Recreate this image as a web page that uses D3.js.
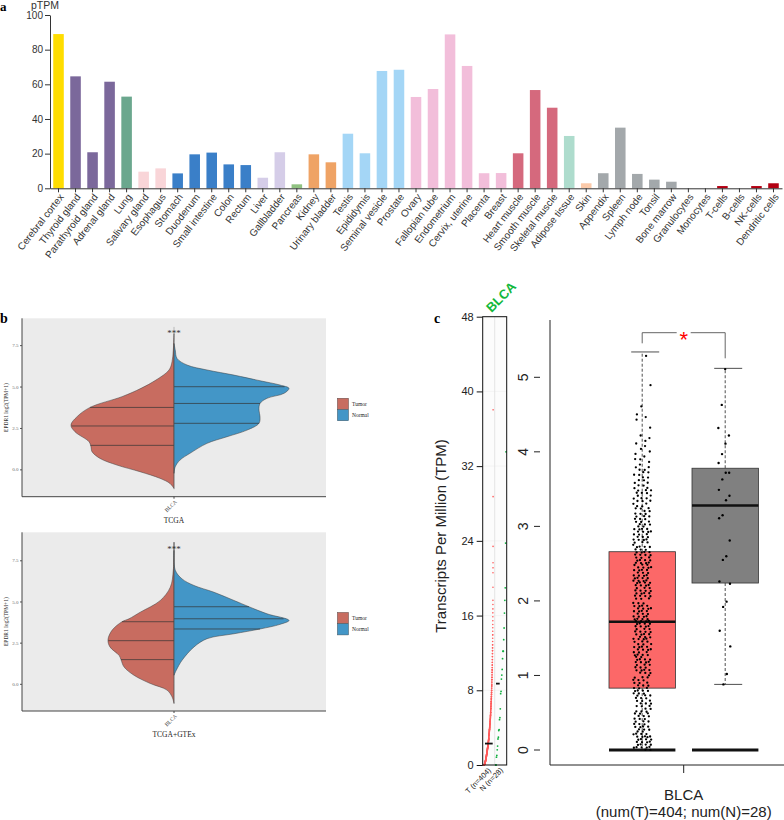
<!DOCTYPE html>
<html><head><meta charset="utf-8">
<script src="https://cdn.jsdelivr.net/npm/d3@7/dist/d3.min.js"></script>
<style>body{margin:0;background:#fff}svg{display:block}</style>
</head><body>
<svg id="chart" width="784" height="820"></svg>
<script>
// ================= DATA =================
// ---- Panel a: HPA tissue RNA expression (pTPM) ----
const tissues = ["Cerebral cortex","Thyroid gland","Parathyroid gland","Adrenal gland","Lung","Salivary gland","Esophagus","Stomach","Duodenum","Small intestine","Colon","Rectum","Liver","Gallbladder","Pancreas","Kidney","Urinary bladder","Testis","Epididymis","Seminal vesicle","Prostate","Ovary","Fallopian tube","Endometrium","Cervix, uterine","Placenta","Breast","Heart muscle","Smooth muscle","Skeletal muscle","Adipose tissue","Skin","Appendix","Spleen","Lymph node","Tonsil","Bone marrow","Granulocytes","Monocytes","T-cells","B-cells","NK-cells","Dendritic cells"];
const pTPM = [89,64.6,20.8,61.5,52.9,9.6,11.5,8.6,19.6,20.6,13.8,13.4,6.1,20.8,2.3,19.6,15,31.5,20.2,67.7,68.4,52.7,57.3,88.8,70.6,8.7,8.8,20.2,56.7,46.5,30.2,2.9,8.7,35,8.3,5,3.8,0,0,1.3,0,1.3,2.9];
const tissueGroup = ["brain","endocrine","endocrine","endocrine","lung","proximal digestive","proximal digestive","gastrointestinal","gastrointestinal","gastrointestinal","gastrointestinal","gastrointestinal","liver & gallbladder","liver & gallbladder","pancreas","kidney & bladder","kidney & bladder","male","male","male","male","female","female","female","female","female","female","muscle","muscle","muscle","adipose","skin","lymphoid","lymphoid","lymphoid","lymphoid","lymphoid","blood","blood","blood","blood","blood","blood"];
const groupNames = ["brain","endocrine","lung","proximal digestive","gastrointestinal","liver & gallbladder","pancreas","kidney & bladder","male","female","muscle","adipose","skin","lymphoid","blood"];
const yTicksA = [0,20,40,60,80,100];

// ---- Panel b: split violins [log2(TPM+1), relative density] ----
const violinTicks = [0,2.5,5,7.5];
const tcgaTumorProfile = [[8.2,0],[7.2,.006],[6.5,.017],[6.0,.043],[5.39,.157],[4.89,.287],[4.39,.452],[3.74,.730],[3.18,.843],[2.68,.896],[2.27,.861],[1.67,.739],[1.37,.722],[1.07,.713],[0.66,.643],[0.26,.496],[-0.14,.296],[-0.54,.122],[-0.85,.035],[-1.15,0]];
const tcgaNormalProfile = [[7.6,0],[7.2,.011],[6.7,.026],[6.3,.113],[6.0,.287],[5.69,.522],[5.35,.748],[5.09,.922],[4.89,1],[4.59,.957],[4.29,.809],[3.98,.748],[3.58,.739],[3.18,.748],[2.78,.739],[2.37,.635],[1.97,.461],[1.57,.287],[0.97,.139],[0.56,.052],[0.16,.011],[-0.24,0]];
const tcgaTumorQuartiles = [1.45,2.62,3.74];
const tcgaNormalQuartiles = [2.78,3.98,4.99];
const gtexTumorProfile = [[8.6,0],[6.9,.006],[5.87,.032],[5.06,.119],[4.35,.293],[3.95,.391],[3.77,.452],[3.25,.539],[2.68,.574],[2.24,.557],[1.73,.478],[1.47,.461],[1.03,.435],[0.52,.348],[0.02,.206],[-0.38,.061],[-0.79,.017],[-1.19,0]];
const gtexNormalProfile = [[8.1,0],[6.9,.011],[6.37,.07],[5.97,.174],[5.56,.348],[5.06,.522],[4.68,.652],[4.25,.809],[3.85,1],[3.61,.922],[3.33,.748],[3.04,.522],[2.74,.287],[2.24,.174],[1.43,.07],[0.83,.02],[0.52,0]];
const gtexTumorQuartiles = [1.47,2.62,3.77];
const gtexNormalQuartiles = [3.33,3.95,4.68];

// ---- Panel c: GEPIA BLCA, log2(TPM+1) ----
const tumorZeroCount = 31;
const tumorBinStart = [0,0.25,0.5,0.75,1,1.25,1.5,1.75,2,2.25,2.5,2.75,3,3.25,3.5,3.75,4,4.25,4.5,4.75,5,5.25];
const tumorBinCount = [30,22,20,22,24,25,26,26,26,26,26,24,20,18,14,10,7,3,2,1,0,1];
const normalValues = [5.11,4.63,4.32,4.22,4.11,3.97,3.85,3.72,3.72,3.63,3.49,3.41,3.35,3.15,3.11,2.81,2.60,2.55,2.26,2.23,1.99,1.92,1.60,1.39,1.02,0.88,0,0];
// [lower whisker, Q1, median, Q3, upper whisker]
const tumorBox = [0,0.83,1.72,2.66,5.34];
const normalBox = [0.88,2.24,3.28,3.78,5.12];
const mainTicks = [0,1,2,3,4,5];
const stripTicks = [0,8,16,24,32,40,48];

// ================= DRAW =================
const svg = d3.select("#chart");
svg.append("rect").attr("width",784).attr("height",820).attr("fill","#fff");
const SANS = "Liberation Sans, Arial, sans-serif";
const SERIF = "Liberation Serif, serif";

// ---------- Panel a ----------
const gA = svg.append("g");
const xA = d3.scaleBand().domain(tissues).range([50,782]).paddingInner(0.38).paddingOuter(0.19);
const yA = d3.scaleLinear().domain([0,100]).range([188.3,15]);
const colorA = d3.scaleOrdinal().domain(groupNames).range(["#FFDD00","#7B689B","#6BA78E","#F9D5D8","#3A7FC8","#D5CDE8","#90C281","#EFA365","#A4D6F6","#F2BEDA","#D5697D","#AEDCCD","#FBCAAA","#A3A8AB","#B30012"]);

gA.selectAll("rect.bar").data(tissues).join("rect").attr("class","bar")
  .attr("x",d=>xA(d)).attr("width",xA.bandwidth())
  .attr("y",(d,i)=>yA(pTPM[i])).attr("height",(d,i)=>yA(0)-yA(pTPM[i]))
  .attr("fill",(d,i)=>colorA(tissueGroup[i]));

const axA = gA.append("g").attr("transform","translate(50,0)")
  .call(d3.axisLeft(yA).tickValues(yTicksA).tickSize(5).tickSizeOuter(0).tickPadding(2));
axA.selectAll("text").attr("font-family",SANS).attr("font-size","10px").attr("fill","#333");
axA.selectAll("line,path").attr("stroke","#333");

const axXA = gA.append("g").attr("transform","translate(0,188.3)")
  .call(d3.axisBottom(xA).tickSize(4).tickSizeOuter(0).tickFormat(""));
axXA.selectAll("line,path").attr("stroke","#333");

gA.selectAll("text.tl").data(tissues).join("text").attr("class","tl")
  .attr("transform",d=>`translate(${xA(d)+xA.bandwidth()/2+3},195) rotate(-52)`)
  .attr("text-anchor","end").attr("dy","0.35em")
  .attr("font-family",SANS).attr("font-size","10px").attr("fill","#333")
  .text(d=>d);

gA.append("text").attr("x",31).attr("y",8.5).attr("font-family",SANS).attr("font-size","10.5px").attr("fill","#333").text("pTPM");
svg.append("text").attr("x",0).attr("y",11).attr("font-family",SERIF).attr("font-weight","bold").attr("font-size","13px").text("a");

// ---------- Panel b ----------
const TUM = "#C86C60", NOR = "#4396C7";
function violinPanel(top,bottom,domTop,tProf,nProf,tQ,nQ,title){
  const g = svg.append("g");
  const xB = d3.scaleBand().domain(["BLCA"]).range([22,326]);
  const cx = xB("BLCA")+xB.bandwidth()/2;
  const yB = d3.scaleLinear().domain([-1.65,domTop]).range([bottom,top]);
  const wS = d3.scaleLinear().domain([0,1]).range([0,115]);
  g.append("rect").attr("x",22).attr("y",top).attr("width",304).attr("height",bottom-top).attr("fill","#EBEBEB");
  function widthAt(prof,v){
    const p = prof.slice().sort((a,b)=>a[0]-b[0]);
    for(let i=0;i<p.length-1;i++){
      if(v>=p[i][0]&&v<=p[i+1][0]){const t=(v-p[i][0])/(p[i+1][0]-p[i][0]);return p[i][1]+t*(p[i+1][1]-p[i][1]);}
    }
    return 0;
  }
  [[tProf,-1,TUM,tQ],[nProf,1,NOR,nQ]].forEach(([prof,side,col,qs])=>{
    const area = d3.area().curve(d3.curveCatmullRom).y(d=>yB(d[0])).x0(cx).x1(d=>cx+side*wS(d[1]));
    g.append("path").datum(prof).attr("d",area).attr("fill",col).attr("stroke","#3a3a3a").attr("stroke-width",0.5);
    g.selectAll(null).data(qs).join("line")
      .attr("x1",cx).attr("x2",d=>cx+side*wS(widthAt(prof,d)))
      .attr("y1",d=>yB(d)).attr("y2",d=>yB(d)).attr("stroke","#333").attr("stroke-width",0.7);
  });
  g.append("line").attr("x1",cx).attr("x2",cx).attr("y1",yB(8.6)).attr("y2",yB(-1.2)).attr("stroke","#666").attr("stroke-width",0.4);
  const ax = g.append("g").attr("transform","translate(22,0)")
    .call(d3.axisLeft(yB).tickValues(violinTicks).tickFormat(d3.format(".1f")).tickSize(2).tickPadding(1.5));
  ax.select(".domain").remove();
  ax.selectAll("line").attr("stroke","#555");
  ax.selectAll("text").attr("font-family",SERIF).attr("font-size","5px").attr("fill","#666");
  g.append("line").attr("x1",22).attr("x2",22).attr("y1",top).attr("y2",bottom).attr("stroke","#444").attr("stroke-width",1);
  g.append("line").attr("x1",22).attr("x2",326).attr("y1",bottom).attr("y2",bottom).attr("stroke","#444").attr("stroke-width",1);
  g.append("line").attr("x1",cx).attr("x2",cx).attr("y1",bottom).attr("y2",bottom+2).attr("stroke","#444");
  g.append("text").attr("transform",`translate(${cx+2},${bottom+4}) rotate(-45)`).attr("text-anchor","end").attr("dy","0.35em")
    .attr("font-family",SERIF).attr("font-size","5.5px").attr("fill","#444").text("BLCA");
  g.append("text").attr("x",cx).attr("y",bottom+26).attr("text-anchor","middle")
    .attr("font-family",SERIF).attr("font-size","7.5px").attr("fill","#222").text(title);
  g.append("text").attr("x",cx).attr("y",yB(8.3)+4.5).attr("text-anchor","middle")
    .attr("font-family",SERIF).attr("font-size","9px").attr("fill","#333").text("***");
  g.append("text").attr("transform",`translate(8,${(top+bottom)/2}) rotate(-90)`).attr("text-anchor","middle")
    .attr("font-family",SERIF).attr("font-size","5.5px").attr("fill","#333").text("EPDR1  log2(TPM+1)");
  const lg = g.append("g");
  const ly = (top+bottom)/2 - 9.3;
  [["Tumor",TUM],["Normal",NOR]].forEach(([n,c],i)=>{
    lg.append("rect").attr("x",337.3).attr("y",ly+i*11.3).attr("width",11.3).attr("height",11.3).attr("fill",c).attr("stroke","#444").attr("stroke-width",0.4);
    lg.append("text").attr("x",352).attr("y",ly+i*11.3+7.5).attr("font-family",SERIF).attr("font-size","5.5px").attr("fill","#222").text(n);
  });
}
violinPanel(318.3,496.7,9.12,tcgaTumorProfile,tcgaNormalProfile,tcgaTumorQuartiles,tcgaNormalQuartiles,"TCGA");
violinPanel(532.3,711,9.2,gtexTumorProfile,gtexNormalProfile,gtexTumorQuartiles,gtexNormalQuartiles,"TCGA+GTEx");
svg.append("text").attr("x",0).attr("y",323).attr("font-family",SERIF).attr("font-weight","bold").attr("font-size","14px").text("b");

// ---------- Panel c ----------
const gC = svg.append("g");
// tumor values from the histogram; positions inside a bin follow an R2 low-discrepancy layout
const R2a = 0.7548776662, R2b = 0.5698402910;
const frac = x => x - Math.floor(x);
const tumorValues = [], tumorJit = [];
let j = 0;
for(let k=0;k<tumorZeroCount;k++){ tumorValues.push(0); tumorJit.push(frac(0.5+j*R2a)); j++; }
tumorBinStart.forEach((s,b)=>{
  const n=tumorBinCount[b];
  for(let k=0;k<n;k++){ tumorValues.push(s+0.25*frac(0.5+j*R2b)); tumorJit.push(frac(0.5+j*R2a)); j++; }
});
const tumorSorted = tumorValues.slice().sort((a,b)=>a-b);
const normalSorted = normalValues.slice().sort((a,b)=>a-b);
const toTPM = v=>Math.pow(2,v)-1;

// strip (TPM scale)
const yS = d3.scaleLinear().domain([0,48]).range([765,316.7]);
const xS = d3.scaleBand().domain(["T","N"]).range([482.7,506.7]);
gC.append("rect").attr("x",482.7).attr("y",316.7).attr("width",24).attr("height",448.3).attr("fill","#fcfcfc");
gC.selectAll(null).data(stripTicks).join("line").attr("x1",482.7).attr("x2",506.7).attr("y1",d=>yS(d)).attr("y2",d=>yS(d)).attr("stroke","#eee").attr("stroke-width",0.6);
gC.append("line").attr("x1",494.7).attr("x2",494.7).attr("y1",316.7).attr("y2",765).attr("stroke","#ddd").attr("stroke-width",0.8);
gC.selectAll("circle.st").data(tumorSorted).join("circle").attr("class","st")
  .attr("cx",(d,i)=>xS("T")+0.8+9.6*i/(tumorSorted.length-1)).attr("cy",d=>yS(toTPM(d))).attr("r",0.8).attr("fill","#FF5A5A");
gC.selectAll("circle.sn").data(normalSorted).join("circle").attr("class","sn")
  .attr("cx",(d,i)=>xS("N")+1+10.3*i/(normalSorted.length-1)).attr("cy",d=>yS(toTPM(d))).attr("r",0.9).attr("fill","#12B040");
gC.append("line").attr("x1",xS("T")+2.3).attr("x2",xS("T")+10).attr("y1",yS(toTPM(tumorBox[2]))).attr("y2",yS(toTPM(tumorBox[2]))).attr("stroke","#111").attr("stroke-width",1.8);
gC.append("line").attr("x1",xS("N")+1.3).attr("x2",xS("N")+5).attr("y1",yS(toTPM(normalBox[2]))).attr("y2",yS(toTPM(normalBox[2]))).attr("stroke","#111").attr("stroke-width",1.8);
gC.append("rect").attr("x",482.7).attr("y",316.7).attr("width",24).attr("height",448.3).attr("fill","none").attr("stroke","#111").attr("stroke-width",1);
const axS = gC.append("g").attr("transform","translate(482.7,0)").call(d3.axisLeft(yS).tickValues(stripTicks).tickSize(6).tickPadding(3).tickSizeOuter(0));
axS.select(".domain").remove();
axS.selectAll("line").attr("stroke","#111");
axS.selectAll("text").attr("font-family",SANS).attr("font-size","11px").attr("fill","#222");
[["T (n=404)","T"],["N (n=28)","N"]].forEach(([t,k])=>{
  gC.append("text").attr("transform",`translate(${xS(k)+xS.bandwidth()/2+1},769) rotate(-45)`).attr("text-anchor","end").attr("dy","0.35em")
    .attr("font-family",SANS).attr("font-size","7.5px").attr("fill","#222").text(t);
});
gC.append("text").attr("transform","translate(501,297) rotate(-45)").attr("text-anchor","middle").attr("dy","0.35em")
  .attr("font-family",SANS).attr("font-weight","bold").attr("font-size","13px").attr("fill","#14B83C").text("BLCA");
gC.append("text").attr("transform","translate(446,536) rotate(-90)").attr("text-anchor","middle")
  .attr("font-family",SANS).attr("font-size","15px").attr("fill","#222").text("Transcripts Per Million (TPM)");
svg.append("text").attr("x",434).attr("y",323).attr("font-family",SERIF).attr("font-weight","bold").attr("font-size","14px").text("c");

// main boxplot
const yM = d3.scaleLinear().domain([0,5]).range([750,377.3]);
const xM = d3.scaleBand().domain(["Tumor","Normal"]).range([600.7,766.7]).paddingInner(0.2).paddingOuter(0.1);
gC.append("line").attr("x1",550).attr("x2",550).attr("y1",320).attr("y2",765).attr("stroke","#222");
gC.append("line").attr("x1",550).attr("x2",784).attr("y1",765).attr("y2",765).attr("stroke","#222");
mainTicks.forEach(t=>{
  gC.append("line").attr("x1",534).attr("x2",540).attr("y1",yM(t)).attr("y2",yM(t)).attr("stroke","#222");
  gC.append("text").attr("transform",`translate(528,${yM(t)}) rotate(-90)`).attr("text-anchor","middle")
    .attr("font-family",SANS).attr("font-size","14px").attr("fill","#222").text(t);
});
const boxes = [["Tumor",tumorBox,"#FC6868"],["Normal",normalBox,"#808080"]];
boxes.forEach(([k,b,col])=>{
  const x0 = xM(k), bw = xM.bandwidth(), c = x0+bw/2;
  gC.append("line").attr("x1",c).attr("x2",c).attr("y1",yM(b[3])).attr("y2",yM(b[4])).attr("stroke","#222").attr("stroke-dasharray","3,2").attr("stroke-width",0.8);
  gC.append("line").attr("x1",c).attr("x2",c).attr("y1",yM(b[1])).attr("y2",yM(b[0])).attr("stroke","#222").attr("stroke-dasharray","3,2").attr("stroke-width",0.8);
  gC.append("line").attr("x1",c-11).attr("x2",c+17).attr("y1",yM(b[4])).attr("y2",yM(b[4])).attr("stroke","#222").attr("stroke-width",0.8);
  if(b[0]>0) gC.append("line").attr("x1",c-11).attr("x2",c+17).attr("y1",yM(b[0])).attr("y2",yM(b[0])).attr("stroke","#222").attr("stroke-width",0.8);
  gC.append("rect").attr("x",x0).attr("width",bw).attr("y",yM(b[3])).attr("height",yM(b[1])-yM(b[3])).attr("fill",col).attr("stroke","#333").attr("stroke-width",0.8);
  gC.append("line").attr("x1",x0).attr("x2",x0+bw).attr("y1",yM(b[2])).attr("y2",yM(b[2])).attr("stroke","#111").attr("stroke-width",2.5);
  gC.append("line").attr("x1",x0).attr("x2",x0+bw).attr("y1",yM(0)).attr("y2",yM(0)).attr("stroke","#111").attr("stroke-width",3);
});
const cT = xM("Tumor")+xM.bandwidth()/2, cN = xM("Normal")+xM.bandwidth()/2;
const tumorPts = tumorValues.map((v,i)=>[v,tumorJit[i]]).filter(d=>d[0]>0);
gC.selectAll("circle.pt").data(tumorPts).join("circle").attr("class","pt")
  .attr("cx",d=>cT+18*d[1]-9).attr("cy",d=>yM(d[0])).attr("r",1.15).attr("fill","#000");
gC.selectAll("circle.pn").data(normalValues.filter(v=>v>0)).join("circle").attr("class","pn")
  .attr("cx",(d,i)=>cN+14*frac(0.5+i*R2a)-7).attr("cy",d=>yM(d)).attr("r",1.2).attr("fill","#000");
// significance bracket
gC.append("path").attr("d",`M${cT},343.3V332.7H676.7M690.7,332.7H${cN}V358.3`).attr("fill","none").attr("stroke","#555").attr("stroke-width",0.9);
gC.append("text").attr("x",(cT+cN)/2).attr("y",347).attr("text-anchor","middle").attr("font-family",SANS).attr("font-size","22px").attr("fill","#F00").text("*");
const cM = (cT+cN)/2;
gC.append("line").attr("x1",cM).attr("x2",cM).attr("y1",765).attr("y2",773).attr("stroke","#222");
gC.append("text").attr("x",cM).attr("y",800).attr("text-anchor","middle").attr("font-family",SANS).attr("font-size","15px").attr("fill","#222").text("BLCA");
gC.append("text").attr("x",cM).attr("y",817).attr("text-anchor","middle").attr("font-family",SANS).attr("font-size","15px").attr("fill","#222").text("(num(T)=404; num(N)=28)");
</script>
</body></html>
